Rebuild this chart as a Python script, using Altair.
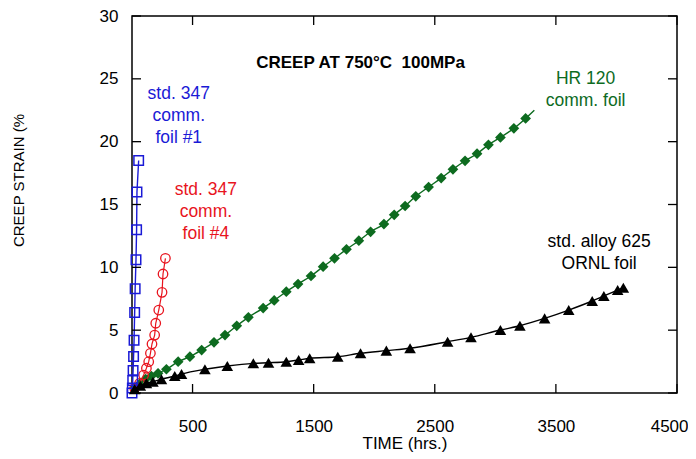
import altair as alt
import pandas as pd

# ---- data ----
blue_time = [0, 3, 6, 9, 13, 17, 22, 26, 33, 38, 41, 55]
blue_strain = [0.0, 0.4, 1.0, 1.8, 2.9, 4.2, 6.4, 8.3, 10.6, 13.0, 16.0, 18.5]

red_time = [22, 63, 96, 119, 138, 152, 165, 187, 196, 221, 248, 256, 276]
red_strain = [0.37, 0.77, 1.43, 1.97, 2.49, 3.16, 3.90, 4.61, 5.55, 6.60, 8.01, 9.47, 10.72]

green_time = [22, 63, 113, 160, 215, 284, 381, 478, 575, 677, 768, 865, 961, 1083,
              1174, 1274, 1371, 1478, 1578, 1672, 1771, 1873, 1970, 2080, 2165, 2255,
              2343, 2449, 2553, 2650, 2750, 2849, 2943, 3042, 3153, 3250]
green_strain = [0.40, 0.72, 1.11, 1.35, 1.57, 1.89, 2.49, 2.89, 3.42, 4.03, 4.61, 5.35,
                6.02, 6.76, 7.37, 8.06, 8.67, 9.31, 10.05, 10.72, 11.43, 12.12, 12.83,
                13.44, 14.18, 14.88, 15.65, 16.39, 17.10, 17.80, 18.48, 19.04, 19.75,
                20.34, 21.06, 21.85]
green_fit_end_time = [3322]
green_fit_end_strain = [22.5]

black_time = [22, 69, 119, 173, 243, 353, 409, 602, 787, 1002, 1127, 1274, 1376, 1467,
              1699, 1887, 2100, 2296, 2606, 2799, 3042, 3203, 3407, 3606, 3800, 3896,
              4010, 4057]
black_strain = [0.30, 0.58, 0.77, 0.90, 1.09, 1.35, 1.51, 1.89, 2.15, 2.36, 2.41, 2.49,
                2.63, 2.76, 2.89, 3.16, 3.37, 3.56, 4.08, 4.43, 5.01, 5.35, 5.94, 6.60,
                7.32, 7.72, 8.19, 8.38]

x_tick_values = [500, 1500, 2500, 3500, 4500]
y_tick_values = [0, 5, 10, 15, 20, 25, 30]

title_text = "CREEP AT 750°C\u00a0\u00a0100MPa"
label_texts = ["std. 347\ncomm.\nfoil #1", "std. 347\ncomm.\nfoil #4",
               "HR 120\ncomm. foil", "std. alloy 625\nORNL foil"]
label_colors = ["#1a1ad6", "#e8141e", "#0d6b1f", "#000000"]
label_time = [386, 610, 3745, 3857]
label_strain = [23.39, 15.75, 24.58, 11.6]

BLUE, RED, GREEN, BLACK = label_colors
FONT = "Liberation Sans"

W, H = 545, 377


def df(t, s):
    return pd.DataFrame({"time": t, "strain": s})


X = alt.X("time:Q",
          scale=alt.Scale(domain=[0, 4500], nice=False, zero=False),
          axis=alt.Axis(values=x_tick_values, title="TIME (hrs.)", format="d",
                        labelPadding=25, labelFlush=True, labelFlushOffset=11,
                        titleBaseline="alphabetic", titleY=55))
Y = alt.Y("strain:Q",
          scale=alt.Scale(domain=[0, 30], nice=False),
          axis=alt.Axis(values=y_tick_values, title="CREEP STRAIN (%", format="d",
                        labelPadding=14, labelFlush=False, titleAngle=270, titleAlign="center",
                        titleBaseline="middle", titleX=-114, titleY=164,
                        titleFontSize=15))

blue_line_df = df([0] + blue_time, [0] + blue_strain)
red_line_df = df([0] + red_time, [0] + red_strain)
green_line_df = df([0] + green_time + green_fit_end_time, [0] + green_strain + green_fit_end_strain)
black_line_df = df([0] + black_time, [0] + black_strain)

layers = []
# green
layers.append(alt.Chart(green_line_df).mark_line(color=GREEN, strokeWidth=1.4, interpolate="monotone").encode(x=X, y=Y))
layers.append(alt.Chart(df(green_time, green_strain)).mark_point(
    shape="diamond", filled=True, size=115, color=GREEN, opacity=1).encode(x=X, y=Y))
# red
layers.append(alt.Chart(red_line_df).mark_line(color=RED, strokeWidth=1.2).encode(x=X, y=Y))
layers.append(alt.Chart(df(red_time, red_strain)).mark_point(
    shape="circle", filled=False, size=90, color=RED, strokeWidth=1.3, opacity=1).encode(x=X, y=Y))
# blue
layers.append(alt.Chart(blue_line_df).mark_line(color=BLUE, strokeWidth=1.4).encode(x=X, y=Y))
layers.append(alt.Chart(df(blue_time, blue_strain)).mark_point(
    shape="square", filled=False, size=90, color=BLUE, strokeWidth=1.5, opacity=1).encode(x=X, y=Y))
# black
layers.append(alt.Chart(black_line_df).mark_line(color=BLACK, strokeWidth=1.4, interpolate="monotone").encode(x=X, y=Y))
layers.append(alt.Chart(df(black_time, black_strain)).mark_point(
    shape="triangle-up", filled=True, size=135, color=BLACK, opacity=1).encode(x=X, y=Y))

# inward ticks on all four sides
xt = pd.DataFrame({"time": x_tick_values})
yt = pd.DataFrame({"strain": y_tick_values})
layers.append(alt.Chart(xt).mark_rule(color="black", strokeWidth=1.3).encode(x=X, y=alt.value(H), y2=alt.value(H - 9)))
layers.append(alt.Chart(xt).mark_rule(color="black", strokeWidth=1.3).encode(x=X, y=alt.value(0), y2=alt.value(9)))
layers.append(alt.Chart(yt).mark_rule(color="black", strokeWidth=1.3).encode(y=Y, x=alt.value(0), x2=alt.value(9)))
layers.append(alt.Chart(yt).mark_rule(color="black", strokeWidth=1.3).encode(y=Y, x=alt.value(W), x2=alt.value(W - 9)))

# annotations
lab_df = pd.DataFrame({"time": label_time, "strain": label_strain,
                       "label": label_texts, "color": label_colors})
layers.append(alt.Chart(lab_df).mark_text(
    font=FONT, fontSize=17.5, align="center", baseline="alphabetic",
    lineBreak="\n", lineHeight=22).encode(
    x=X, y=Y, text="label:N", color=alt.Color("color:N", scale=None)))

title_df = pd.DataFrame({"time": [1887], "strain": [25.83], "label": [title_text]})
layers.append(alt.Chart(title_df).mark_text(
    font=FONT, fontSize=17, fontWeight="bold", align="center", baseline="alphabetic",
    color="black").encode(x=X, y=Y, text="label:N"))

chart = alt.layer(*layers).properties(
    width=W, height=H,
    autosize=alt.AutoSizeParams(type="none"),
    padding={"left": 124, "top": 8, "right": 11, "bottom": 60},
    background="white",
).configure_view(
    stroke="black", strokeWidth=1.5
).configure_axis(
    labelFont=FONT, titleFont=FONT, labelFontSize=17, titleFontSize=17,
    labelColor="black", titleColor="black", titleFontWeight="normal",
    domain=False, ticks=False, tickSize=0, grid=False,
)

chart.save("out.html", embed_options={"renderer": "svg", "actions": False})
